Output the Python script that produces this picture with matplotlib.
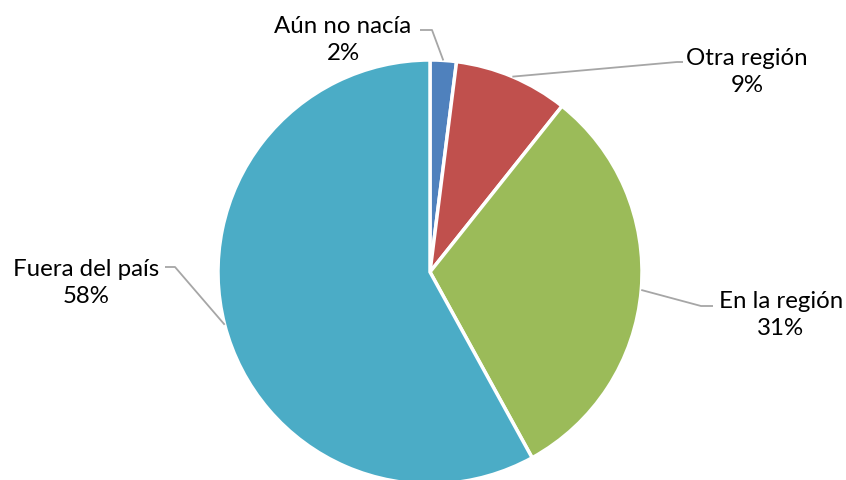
import numpy as np
import matplotlib
matplotlib.use("Agg")
import matplotlib.pyplot as plt

categories = ["Aún no nacía", "Otra región", "En la región", "Fuera del país"]
values = [2.0, 8.7, 31.3, 58.0]
colors = ["#4F81BD", "#C0504D", "#9BBB59", "#4BACC6"]

W, H = 846, 481
fig = plt.figure(figsize=(W / 100, H / 100), dpi=100)
ax = fig.add_axes([0, 0, 1, 1])

cx, cy, R = 430, H - 273, 212
wedges, _ = ax.pie(values, colors=colors, startangle=90, counterclock=False,
                   center=(cx, cy), radius=R,
                   wedgeprops=dict(edgecolor="white", linewidth=2.5))
ax.set_xlim(0, W)
ax.set_ylim(0, H)
ax.set_aspect("equal")
ax.axis("off")

# label block centers and elbow points (pixel coords from top)
label_pos = [(343, 40), (747, 72), (781, 315), (86, 283)]
elbows = [((432, 31), (420, 31)), ((677, 63), (683, 63)),
          ((701, 307), (713, 307)), ((175, 268), (165, 268))]

for w, cat, v, (lx, ly), (e1, e2) in zip(wedges, categories, values, label_pos, elbows):
    mid = np.deg2rad((w.theta1 + w.theta2) / 2)
    px, py = cx + R * np.cos(mid), cy + R * np.sin(mid)
    ax.plot([px, e1[0], e2[0]], [py, H - e1[1], H - e2[1]],
            color="#A6A6A6", lw=1.3, solid_capstyle="butt", zorder=1)
    ax.text(lx, H - ly, f"{cat}\n{round(v):.0f}%", ha="center", va="center",
            multialignment="center", fontsize=17.3, family=["Lato", "DejaVu Sans"],
            color="#000000", linespacing=1.4)

fig.savefig("out.png", dpi=100)
